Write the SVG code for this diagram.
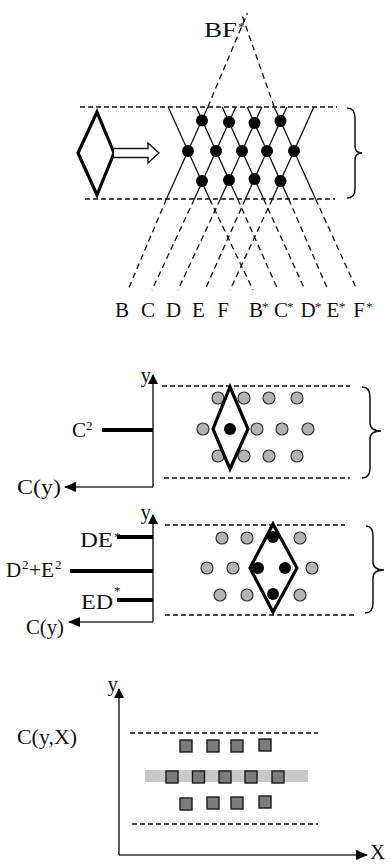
<svg xmlns="http://www.w3.org/2000/svg" width="390" height="865" viewBox="0 0 390 865">
<style>
.t{font-family:"Liberation Serif","Times New Roman",serif;font-size:21px;fill:#111}
.s{font-family:"Liberation Serif","Times New Roman",serif;font-size:13px;fill:#111}
.hd{stroke:#111;stroke-width:1.5;stroke-dasharray:5,3;fill:none}
.sl{stroke:#111;stroke-width:1.3;fill:none}
.sd{stroke:#111;stroke-width:1.3;stroke-dasharray:6,4;fill:none}
.dia{stroke:#000;stroke-width:3.2;fill:none;stroke-linejoin:miter}
.bk{fill:#000}
.gr{fill:#b3b3b3;stroke:#333;stroke-width:1.2}
.sq{fill:#7c7c7c;stroke:#1a1a1a;stroke-width:1.4}
.ax{stroke:#333;stroke-width:1.6;fill:none}
.bar{stroke:#000;stroke-width:4}
.br{stroke:#111;stroke-width:1.5;fill:none}
</style>
<defs>
<marker id="au" viewBox="0 0 10 10" refX="9" refY="5" markerWidth="10" markerHeight="10" markerUnits="userSpaceOnUse" orient="auto"><path d="M0,0 L10,5 L0,10 z" fill="#000"/></marker>
<marker id="ax" viewBox="0 0 12 10" refX="11" refY="5" markerWidth="12" markerHeight="10" markerUnits="userSpaceOnUse" orient="auto"><path d="M0,0 L12,5 L0,10 z" fill="#000"/></marker>
</defs>

<!-- Panel 1 -->
<g id="panel1">
<line class="hd" x1="80" y1="107" x2="337" y2="107"/>
<line class="hd" x1="85" y1="199" x2="335" y2="199"/>
<path class="br" d="M347,108 Q355,108 355,118 L355,146 Q355,153 362,153 Q355,153 355,160 L355,189 Q355,198 347,198"/>
</g>
<g id="source-diamond">
<path class="dia" d="M97,112 L114,153 L97,195 L78,153 Z"/>
<path d="M114,148.5 L148,148.5 L148,143 L159,153 L148,163 L148,157.5 L114,157.5" fill="#fff" stroke="#111" stroke-width="1.4"/>
</g>
<g id="connectors">
<line class="sl" x1="207.8" y1="107" x2="166.4" y2="199"/>
<line class="sl" x1="235.8" y1="107" x2="194.4" y2="199"/>
<line class="sl" x1="261.8" y1="107" x2="220.4" y2="199"/>
<line class="sl" x1="286.8" y1="107" x2="245.4" y2="199"/>
<line class="sl" x1="313.8" y1="107" x2="272.4" y2="199"/>
<line class="sl" x1="168.2" y1="107" x2="209.6" y2="199"/>
<line class="sl" x1="196.2" y1="107" x2="237.6" y2="199"/>
<line class="sl" x1="222.2" y1="107" x2="263.6" y2="199"/>
<line class="sl" x1="247.2" y1="107" x2="288.6" y2="199"/>
<line class="sl" x1="274.2" y1="107" x2="315.6" y2="199"/>
<line class="sd" x1="166.4" y1="199" x2="128" y2="290"/>
<line class="sd" x1="194.4" y1="199" x2="152" y2="290"/>
<line class="sd" x1="220.4" y1="199" x2="178" y2="290"/>
<line class="sd" x1="245.4" y1="199" x2="205" y2="290"/>
<line class="sd" x1="272.4" y1="199" x2="230" y2="290"/>
<line class="sd" x1="209.6" y1="199" x2="253" y2="290"/>
<line class="sd" x1="237.6" y1="199" x2="278" y2="290"/>
<line class="sd" x1="263.6" y1="199" x2="305" y2="290"/>
<line class="sd" x1="288.6" y1="199" x2="328" y2="290"/>
<line class="sd" x1="315.6" y1="199" x2="357" y2="290"/>
<line class="sd" x1="207.8" y1="107" x2="247.4" y2="13"/>
<line class="sd" x1="274.2" y1="107" x2="241.2" y2="13"/>
</g>
<g id="lattice-dots">
<circle class="bk" cx="202" cy="120.5" r="6"/>
<circle class="bk" cx="229" cy="122" r="6"/>
<circle class="bk" cx="254.5" cy="123" r="6"/>
<circle class="bk" cx="280.5" cy="121" r="6"/>
<circle class="bk" cx="188" cy="151" r="6"/>
<circle class="bk" cx="216" cy="151" r="6"/>
<circle class="bk" cx="242" cy="151" r="6"/>
<circle class="bk" cx="267" cy="151" r="6"/>
<circle class="bk" cx="294" cy="151" r="6"/>
<circle class="bk" cx="202" cy="181" r="6"/>
<circle class="bk" cx="229" cy="180" r="6"/>
<circle class="bk" cx="254.5" cy="179" r="6"/>
<circle class="bk" cx="280.5" cy="181" r="6"/>
</g>
<g id="labels1">
<text class="t" x="204" y="37" textLength="33" lengthAdjust="spacingAndGlyphs">BF</text>
<text class="s" x="238" y="31">*</text>
<g text-anchor="middle">
<text class="t" x="122" y="317">B</text>
<text class="t" x="148" y="317">C</text>
<text class="t" x="173.5" y="317">D</text>
<text class="t" x="198.5" y="317">E</text>
<text class="t" x="223" y="317">F</text>
<text class="t" x="256" y="317">B</text>
<text class="t" x="281" y="317">C</text>
<text class="t" x="308" y="317">D</text>
<text class="t" x="333" y="317">E</text>
<text class="t" x="359" y="317">F</text>
</g>
<text class="s" x="262" y="311">*</text>
<text class="s" x="287" y="311">*</text>
<text class="s" x="315" y="311">*</text>
<text class="s" x="339" y="311">*</text>
<text class="s" x="366" y="311">*</text>
</g>

<!-- Panel 2 -->
<g id="panel2">
<path class="ax" d="M153,487 L153,375" marker-end="url(#au)"/>
<path class="ax" d="M153,487 L65,487" marker-end="url(#ax)"/>
<text class="t" x="151" y="382" text-anchor="end" font-size="19">y</text>
<text class="t" x="17" y="494" textLength="44" lengthAdjust="spacingAndGlyphs">C(y)</text>
<line class="hd" x1="162" y1="386" x2="350" y2="386"/>
<line class="hd" x1="164" y1="478" x2="350" y2="478"/>
<path class="br" d="M362,387 Q370,387 370,397 L370,423 Q370,431 381,431 Q370,431 370,439 L370,468 Q370,478 362,478"/>
<line class="bar" x1="102" y1="430" x2="153" y2="430"/>
<text class="t" x="72" y="437">C</text>
<text class="s" x="86" y="430">2</text>
</g>
<g id="dots2">
<circle class="gr" cx="218" cy="398" r="6"/>
<circle class="gr" cx="244" cy="398" r="6"/>
<circle class="gr" cx="269" cy="398" r="6"/>
<circle class="gr" cx="297" cy="398" r="6"/>
<circle class="gr" cx="203" cy="429" r="6"/>
<circle class="bk" cx="230" cy="429" r="6"/>
<circle class="gr" cx="257" cy="429" r="6"/>
<circle class="gr" cx="282" cy="429" r="6"/>
<circle class="gr" cx="308" cy="429" r="6"/>
<circle class="gr" cx="218" cy="456" r="6"/>
<circle class="gr" cx="244" cy="456" r="6"/>
<circle class="gr" cx="269" cy="456" r="6"/>
<circle class="gr" cx="297" cy="456" r="6"/>
<path class="dia" d="M230,387 L248,429 L230,469 L213,429 Z"/>
</g>

<!-- Panel 3 -->
<g id="panel3">
<path class="ax" d="M153,622 L153,515" marker-end="url(#au)"/>
<path class="ax" d="M153,622 L69,622" marker-end="url(#ax)"/>
<text class="t" x="151" y="519" text-anchor="end" font-size="19">y</text>
<text class="t" x="26" y="634" textLength="38" lengthAdjust="spacingAndGlyphs">C(y)</text>
<line class="hd" x1="165" y1="525" x2="345" y2="525"/>
<line class="hd" x1="165" y1="615" x2="355" y2="615"/>
<path class="br" d="M366,526 Q373,526 373,536 L373,562 Q373,570 384,570 Q373,570 373,578 L373,603 Q373,613 365,613"/>
<line class="bar" x1="117" y1="537" x2="153" y2="537"/>
<line class="bar" x1="70" y1="571" x2="153" y2="571"/>
<line class="bar" x1="117" y1="600" x2="153" y2="600"/>
<text class="t" x="80" y="547" textLength="33" lengthAdjust="spacingAndGlyphs">DE</text>
<text class="s" x="114" y="541">*</text>
<text class="t" x="6" y="577">D</text>
<text class="s" x="22" y="569">2</text>
<text class="t" x="29" y="577" textLength="25" lengthAdjust="spacingAndGlyphs">+E</text>
<text class="s" x="55" y="569">2</text>
<text class="t" x="81" y="609" textLength="32" lengthAdjust="spacingAndGlyphs">ED</text>
<text class="s" x="114" y="595">*</text>
</g>
<g id="dots3">
<circle class="gr" cx="222" cy="538" r="6"/>
<circle class="gr" cx="247" cy="538" r="6"/>
<circle class="bk" cx="273" cy="537" r="6"/>
<circle class="gr" cx="300" cy="538" r="6"/>
<circle class="gr" cx="207" cy="568" r="6"/>
<circle class="gr" cx="233" cy="568" r="6"/>
<circle class="bk" cx="258" cy="568" r="6"/>
<circle class="bk" cx="285" cy="568" r="6"/>
<circle class="gr" cx="312" cy="568" r="6"/>
<circle class="gr" cx="220" cy="595" r="6"/>
<circle class="gr" cx="247" cy="595" r="6"/>
<circle class="bk" cx="273" cy="594" r="6"/>
<circle class="gr" cx="300" cy="595" r="6"/>
<path class="dia" d="M273,524 L297,568 L273,612 L250,568 Z"/>
</g>

<!-- Panel 4 -->
<g id="panel4">
<path class="ax" d="M119,855 L119,689" marker-end="url(#au)"/>
<path class="ax" d="M119,855 L367,855" marker-end="url(#ax)"/>
<text class="t" x="118" y="691" text-anchor="end" font-size="19">y</text>
<text class="t" x="370" y="859" font-size="18">X</text>
<text class="t" x="17" y="744" textLength="60" lengthAdjust="spacingAndGlyphs">C(y,X)</text>
<line class="hd" x1="130" y1="733" x2="318" y2="733"/>
<line class="hd" x1="132" y1="824" x2="318" y2="824"/>
<rect x="145" y="770" width="163" height="12" fill="#c8c8c8"/>
</g>
<g id="squares">
<rect class="sq" x="180" y="740" width="12" height="12"/>
<rect class="sq" x="207" y="740" width="12" height="12"/>
<rect class="sq" x="231" y="740" width="12" height="12"/>
<rect class="sq" x="259" y="739" width="12" height="12"/>
<rect class="sq" x="166" y="771" width="12" height="12"/>
<rect class="sq" x="192.5" y="771" width="12" height="12"/>
<rect class="sq" x="219" y="771" width="12" height="12"/>
<rect class="sq" x="245" y="771" width="12" height="12"/>
<rect class="sq" x="272" y="771" width="12" height="12"/>
<rect class="sq" x="180" y="798" width="12" height="12"/>
<rect class="sq" x="207" y="797" width="12" height="12"/>
<rect class="sq" x="231" y="797" width="12" height="12"/>
<rect class="sq" x="259" y="796" width="12" height="12"/>
</g>
</svg>
